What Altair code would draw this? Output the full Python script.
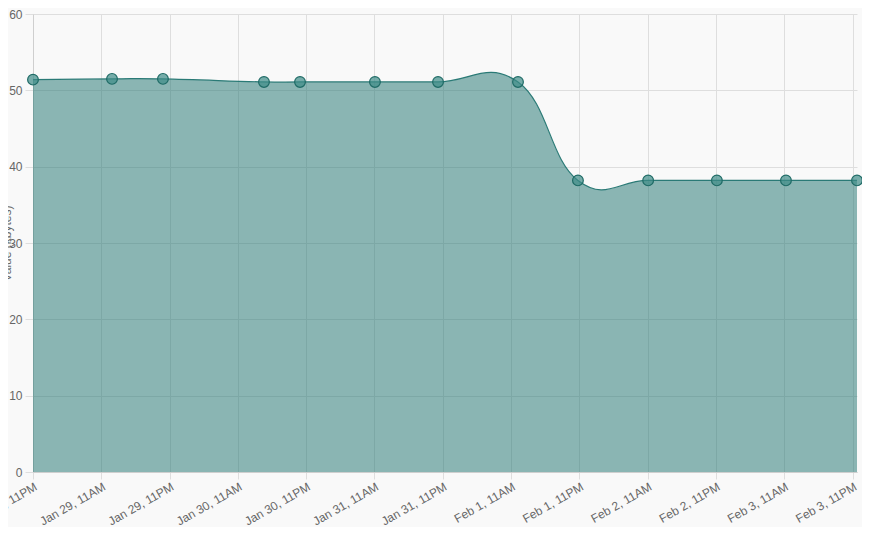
import altair as alt
import pandas as pd

times = [
    "2018-01-28T23:00", "2018-01-29T12:53", "2018-01-29T21:50",
    "2018-01-30T15:35", "2018-01-30T21:55", "2018-01-31T11:05",
    "2018-01-31T22:10", "2018-02-01T12:13", "2018-02-01T22:45",
    "2018-02-02T11:05", "2018-02-02T23:10", "2018-02-03T11:18",
    "2018-02-03T23:47",
]
values = [51.4, 51.5, 51.5, 51.1, 51.1, 51.1, 51.1, 51.1, 38.2, 38.2, 38.2, 38.2, 38.2]

tick_times = [
    "2018-01-28T23:00", "2018-01-29T11:00", "2018-01-29T23:00",
    "2018-01-30T11:00", "2018-01-30T23:00", "2018-01-31T11:00",
    "2018-01-31T23:00", "2018-02-01T11:00", "2018-02-01T23:00",
    "2018-02-02T11:00", "2018-02-02T23:00", "2018-02-03T11:00",
    "2018-02-03T23:00",
]
y_ticks = [0, 10, 20, 30, 40, 50, 60]

df = pd.DataFrame({"time": times, "value": values})

tick_dt = []
for t in tick_times:
    ts = pd.Timestamp(t)
    tick_dt.append(alt.DateTime(year=ts.year, month=ts.month, date=ts.day,
                                hours=ts.hour, minutes=ts.minute))

teal = "#1b716d"
font = "Liberation Sans"

x_enc = alt.X(
    "time:T",
    scale=alt.Scale(nice=False),
    axis=alt.Axis(
        values=tick_dt, format="%b %-d, %-I%p", labelAngle=-30,
        labelAlign="right", labelBaseline="top", labelPadding=2,
        title=None, grid=True, gridColor="#dedede", tickColor="#dedede",
        domainColor="#cfcfcf", tickSize=7, labelColor="#666",
        labelFontSize=12, labelFont=font, labelOverlap=False, labelFlush=False,
    ),
)
y_enc = alt.Y(
    "value:Q",
    scale=alt.Scale(domain=[0, 60], nice=False),
    axis=alt.Axis(
        values=y_ticks, title="Value (kbytes)", titleX=-20, titleAngle=270,
        titleBaseline="bottom", titleColor="#666", titleFontSize=12,
        titleFont=font, titleFontWeight="normal",
        grid=True, gridColor="#dedede", tickColor="#dedede",
        domainColor="#cfcfcf", tickSize=8, labelPadding=3,
        labelColor="#666", labelFontSize=12, labelFont=font,
    ),
)

area = alt.Chart(df).mark_area(
    interpolate="cardinal", tension=-0.3, color=teal, opacity=0.5,
    line={"color": "#2a7a76", "strokeWidth": 1.2, "interpolate": "cardinal", "tension": -0.3},
).encode(x=x_enc, y=y_enc)

points = alt.Chart(df).mark_point(
    filled=True, size=115, fill="#3d8c87", fillOpacity=0.7,
    stroke="#1f6b66", strokeWidth=1.2, opacity=1,
).encode(x="time:T", y="value:Q")

chart = (area + points).properties(
    width=824, height=458,
    padding={"left": 25, "top": 6, "right": 5, "bottom": 55},
    autosize=alt.AutoSizeParams(type="none"),
    background="#f9f9f9",
).configure_view(stroke=None)

chart.save("out.html", embed_options={"renderer": "svg", "actions": False})
